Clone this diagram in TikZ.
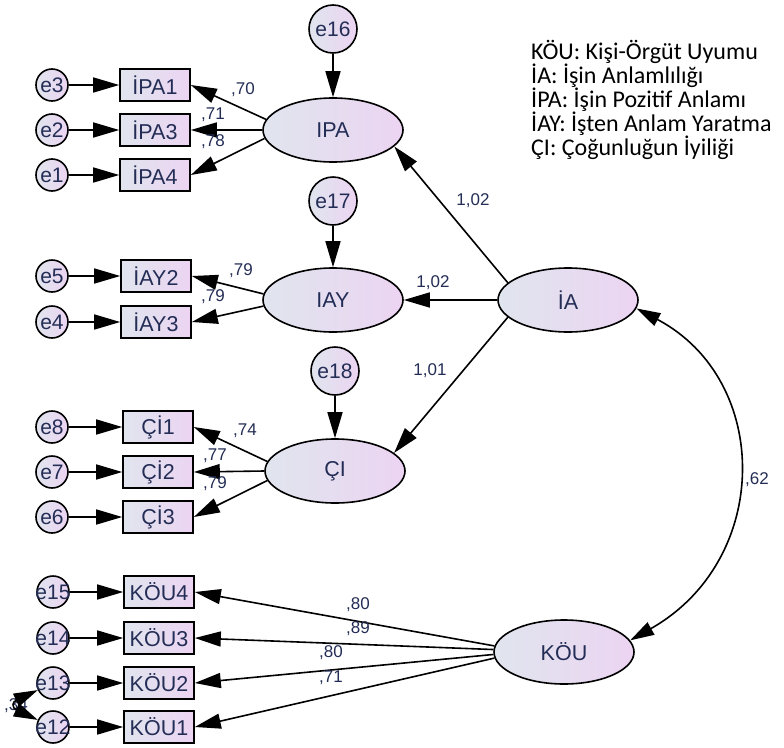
\documentclass[tikz,border=0pt]{standalone}
\usepackage{fontspec}
\setmainfont{Liberation Sans}
\newfontfamily\legendfont{Carlito}
\usetikzlibrary{arrows.meta,shapes.geometric}
\definecolor{gl}{RGB}{224,229,238}
\definecolor{gr}{RGB}{236,212,242}
\definecolor{txt}{RGB}{35,45,85}
\begin{document}
\begin{tikzpicture}[x=1pt,y=-1pt,
 base/.style={draw=black, line width=1.6pt, left color=gl, right color=gr, text=txt, inner sep=0pt},
 lat/.style={base, ellipse, minimum width=140pt, minimum height=64pt, font=\fontsize{21.5}{24}\selectfont},
 obs/.style={base, rectangle, minimum width=70pt, minimum height=32pt, font=\fontsize{21.5}{24}\selectfont},
 err/.style={base, circle, minimum size=32pt, font=\fontsize{21}{24}\selectfont},
 errb/.style={err, minimum size=48pt},
 arr/.style={line width=1.6pt, -{Triangle[length=26pt,width=15pt]}},
 cov/.style={line width=1.6pt, {Triangle[length=24pt,width=14pt]}-{Triangle[length=24pt,width=14pt]}},
 lbl/.style={text=txt, font=\fontsize{17}{20}\selectfont, inner sep=0pt},
 leg/.style={anchor=base west, inner sep=0pt, font=\legendfont\fontsize{24}{24}\selectfont},
 ]
\useasboundingbox (0,0) rectangle (784,747);

% legend
\node[leg] (l1) at (531,59.5) {KÖU: Kişi-Örgüt Uyumu};
\node[leg] (l2) at (531,83.5) {İA: İşin Anlamlılığı};
\node[leg] (l3) at (531,107.5) {İPA: İşin Pozitif Anlamı};
\node[leg] (l4) at (531,131.5) {İAY: İşten Anlam Yaratma};
\node[leg] (l5) at (531,155.5) {ÇI: Çoğunluğun İyiliği};

% latent variables
\node[lat] (IPA) at (333,130) {IPA};
\node[lat] (IAY) at (333,300) {IAY};
\node[lat] (CI)  at (335,471) {ÇI};
\node[lat] (IA)  at (568,300) {İA};
\node[lat] (KOU) at (564,652) {KÖU};

% disturbances
\node[errb] (e16) at (333,29) {\makebox[0pt]{e16}};
\node[errb] (e17) at (333,201) {\makebox[0pt]{e17}};
\node[errb] (e18) at (335,371) {\makebox[0pt]{e18}};

% observed variables
\node[obs] (IPA1) at (155,85) {İPA1};
\node[obs] (IPA3) at (155,130) {İPA3};
\node[obs] (IPA4) at (155,175) {İPA4};
\node[obs] (IAY2) at (156,276) {İAY2};
\node[obs] (IAY3) at (156,322) {İAY3};
\node[obs] (CI1) at (158,427) {Çİ1};
\node[obs] (CI2) at (158,472) {Çİ2};
\node[obs] (CI3) at (158,517) {Çİ3};
\node[obs] (K4) at (159,592) {KÖU4};
\node[obs] (K3) at (159,638) {KÖU3};
\node[obs] (K2) at (159,683) {KÖU2};
\node[obs] (K1) at (159,727) {KÖU1};

% errors
\node[err] (e3) at (52,85) {\makebox[0pt]{e3}};
\node[err] (e2) at (52,130) {\makebox[0pt]{e2}};
\node[err] (e1) at (52,175) {\makebox[0pt]{e1}};
\node[err] (e5) at (52,276) {\makebox[0pt]{e5}};
\node[err] (e4) at (52,322) {\makebox[0pt]{e4}};
\node[err] (e8) at (52,427) {\makebox[0pt]{e8}};
\node[err] (e7) at (52,472) {\makebox[0pt]{e7}};
\node[err] (e6) at (52,517) {\makebox[0pt]{e6}};
\node[err] (e15) at (53,592) {\makebox[0pt]{e15}};
\node[err] (e14) at (53,638) {\makebox[0pt]{e14}};
\node[err] (e13) at (53,683) {\makebox[0pt]{e13}};
\node[err] (e12) at (53,727) {\makebox[0pt]{e12}};

% error arrows
\foreach \e/\o in {e3/IPA1,e2/IPA3,e1/IPA4,e5/IAY2,e4/IAY3,e8/CI1,e7/CI2,e6/CI3,e15/K4,e14/K3,e13/K2,e12/K1}
  \draw[arr] (\e) -- (\o);
\draw[arr] (e16) -- (IPA);
\draw[arr] (e17) -- (IAY);
\draw[arr] (e18) -- (CI);

% loadings
\draw[arr] (IPA.171) -- (IPA1.east);
\draw[arr] (IPA.west) -- (IPA3.east);
\draw[arr] (IPA.187) -- (IPA4.east);
\draw[arr] (IAY.175) -- (IAY2.east);
\draw[arr] (IAY.185) -- (IAY3.east);
\draw[arr] (CI.172) -- (CI1.east);
\draw[arr] (CI.west) -- (CI2.east);
\draw[arr] (CI.188) -- (CI3.east);
\draw[arr] (KOU.175) -- (K4.east);
\draw[arr] (KOU.178) -- (K3.east);
\draw[arr] (KOU.182) -- (K2.east);
\draw[arr] (KOU.185) -- (K1.east);

% second order
\draw[arr] (IA.164) -- (IPA.-15);
\draw[arr] (IA.west) -- (IAY.east);
\draw[arr] (IA.196) -- (CI.17);

% covariances
\node[lbl] (c1213) at (16,706) {,34};
\draw[cov] (e13.205) .. controls (12,702) and (12,708) .. (e12.155);
\draw[cov] (KOU.10) .. controls (772,560) and (772,380) .. (IA.-7);

% labels
\node[lbl] (w1) at (243,90) {,70};
\node[lbl] (w2) at (213,115) {,71};
\node[lbl] (w3) at (213,142) {,78};
\node[lbl] (w4) at (241,271) {,79};
\node[lbl] (w5) at (213,297) {,79};
\node[lbl] (w6) at (245,431) {,74};
\node[lbl] (w7) at (215,456) {,77};
\node[lbl] (w8) at (215,484) {,79};
\node[lbl] (w9) at (358,605) {,80};
\node[lbl] (w10) at (358,629) {,89};
\node[lbl] (w11) at (331,653) {,80};
\node[lbl] (w12) at (331,678) {,71};
\node[lbl] (g1) at (473,201) {1,02};
\node[lbl] (g2) at (433,283) {1,02};
\node[lbl] (g3) at (430,371) {1,01};
\node[lbl] (r1) at (757,480) {,62};
\end{tikzpicture}
\end{document}
